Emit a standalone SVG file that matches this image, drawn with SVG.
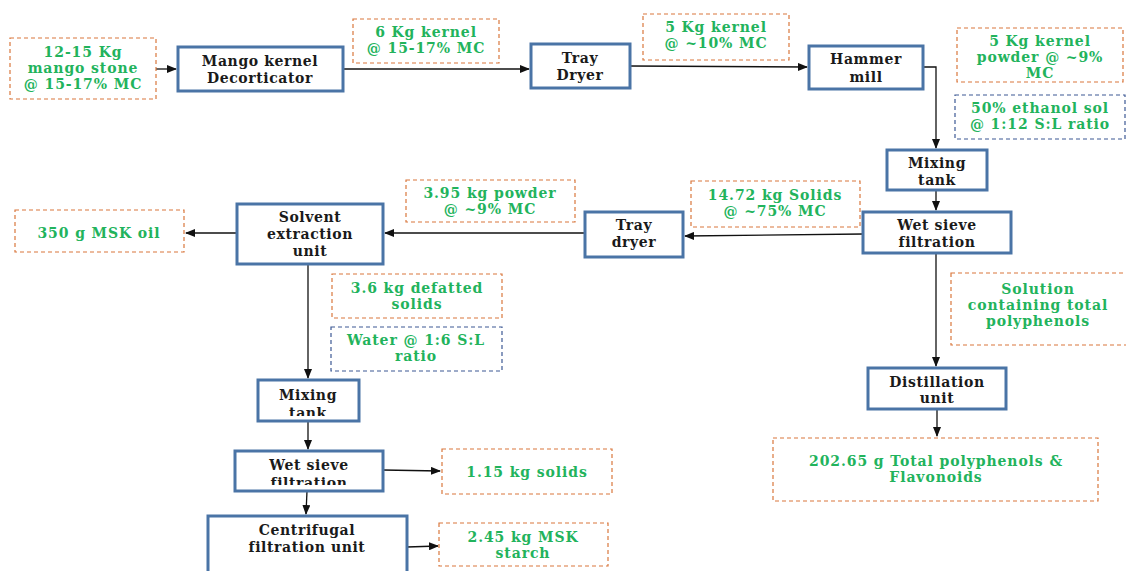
<svg xmlns="http://www.w3.org/2000/svg" width="1126" height="571" viewBox="0 0 1126 571">
<style>
.node{fill:#fff;stroke:#4a74a6;stroke-width:3}
.note{fill:#fff;stroke:#d9773c;stroke-width:1.2;stroke-dasharray:4 3}
.noteb{fill:#fff;stroke:#3d5994;stroke-width:1.2;stroke-dasharray:4 3}
.t{font-family:"DejaVu Serif","Liberation Serif",serif;font-weight:bold;font-size:14px;letter-spacing:0.6px;fill:#1a1a1a;text-anchor:middle}
.g{font-family:"DejaVu Serif","Liberation Serif",serif;font-weight:bold;font-size:14px;letter-spacing:0.9px;fill:#22b35c;text-anchor:middle}
.c{fill:none;stroke:#111;stroke-width:1.3}
</style>
<defs>
<marker id="ah" markerWidth="10" markerHeight="8" refX="9" refY="4" orient="auto" markerUnits="userSpaceOnUse">
<path d="M0,0 L10,4 L0,8 Z" fill="#111"/>
</marker>
<clipPath id="clipMix2"><rect x="258" y="380" width="101" height="36"/></clipPath>
<clipPath id="clipWet2"><rect x="235" y="451" width="148" height="34"/></clipPath>
</defs>

<g id="connectors">
<path class="c" d="M156,69 H176" marker-end="url(#ah)"/>
<path class="c" d="M343,69 H529" marker-end="url(#ah)"/>
<path class="c" d="M630,66 L807,67" marker-end="url(#ah)"/>
<path class="c" d="M923,67 H936 V148" marker-end="url(#ah)"/>
<path class="c" d="M936,190 V210" marker-end="url(#ah)"/>
<path class="c" d="M863,234 L685,236" marker-end="url(#ah)"/>
<path class="c" d="M585,233 H385" marker-end="url(#ah)"/>
<path class="c" d="M237,233 H186" marker-end="url(#ah)"/>
<path class="c" d="M936,253 V366" marker-end="url(#ah)"/>
<path class="c" d="M937,409 V436" marker-end="url(#ah)"/>
<path class="c" d="M308,265 V378" marker-end="url(#ah)"/>
<path class="c" d="M308,421 V449" marker-end="url(#ah)"/>
<path class="c" d="M383,470 L440,471" marker-end="url(#ah)"/>
<path class="c" d="M307,491 L306,514" marker-end="url(#ah)"/>
<path class="c" d="M407,547 L438,546" marker-end="url(#ah)"/>
</g>

<g id="n-stone"><rect class="note" x="10" y="38" width="146" height="61"/>
<text class="g" x="83" y="57">12-15 Kg</text><text class="g" x="83" y="73">mango stone</text><text class="g" x="83" y="89">@ 15-17% MC</text></g>

<g id="n-decort"><rect class="node" x="178" y="47" width="165" height="44"/>
<text class="t" x="260" y="66">Mango kernel</text><text class="t" x="260" y="83">Decorticator</text></g>

<g id="n-kernel6"><rect class="note" x="353" y="19" width="146" height="44"/>
<text class="g" x="426" y="37">6 Kg kernel</text><text class="g" x="426" y="53">@ 15-17% MC</text></g>

<g id="n-traydryer1"><rect class="node" x="531" y="44" width="99" height="44"/>
<text class="t" x="580" y="63">Tray</text><text class="t" x="580" y="80">Dryer</text></g>

<g id="n-kernel5"><rect class="note" x="643" y="14" width="146" height="46"/>
<text class="g" x="716" y="32">5 Kg kernel</text><text class="g" x="716" y="48">@ ~10% MC</text></g>

<g id="n-hammer"><rect class="node" x="809" y="46" width="114" height="43"/>
<text class="t" x="866" y="64">Hammer</text><text class="t" x="866" y="82">mill</text></g>

<g id="n-powder5"><rect class="note" x="957" y="28" width="166" height="54"/>
<text class="g" x="1040" y="46">5 Kg kernel</text><text class="g" x="1040" y="62">powder @ ~9%</text><text class="g" x="1040" y="78">MC</text></g>

<g id="n-ethanol"><rect class="noteb" x="955" y="95" width="170" height="44"/>
<text class="g" x="1040" y="113">50% ethanol sol</text><text class="g" x="1040" y="129">@ 1:12 S:L ratio</text></g>

<g id="n-mix1"><rect class="node" x="887" y="150" width="100" height="40"/>
<text class="t" x="937" y="168">Mixing</text><text class="t" x="937" y="185">tank</text></g>

<g id="n-wet1"><rect class="node" x="863" y="212" width="148" height="41"/>
<text class="t" x="937" y="230">Wet sieve</text><text class="t" x="937" y="247">filtration</text></g>

<g id="n-solids1472"><rect class="note" x="691" y="181" width="169" height="46"/>
<text class="g" x="775" y="200">14.72 kg Solids</text><text class="g" x="775" y="216">@ ~75% MC</text></g>

<g id="n-traydryer2"><rect class="node" x="585" y="212" width="98" height="45"/>
<text class="t" x="634" y="230">Tray</text><text class="t" x="634" y="247">dryer</text></g>

<g id="n-powder395"><rect class="note" x="406" y="180" width="169" height="42"/>
<text class="g" x="490" y="198">3.95 kg powder</text><text class="g" x="490" y="214">@ ~9% MC</text></g>

<g id="n-solvent"><rect class="node" x="237" y="204" width="146" height="60"/>
<text class="t" x="310" y="222">Solvent</text><text class="t" x="310" y="239">extraction</text><text class="t" x="310" y="256">unit</text></g>

<g id="n-oil"><rect class="note" x="15" y="210" width="169" height="42"/>
<text class="g" x="99" y="238">350 g MSK oil</text></g>

<g id="n-solution"><rect class="note" x="951" y="273" width="182" height="72"/>
<text class="g" x="1038" y="294">Solution</text><text class="g" x="1038" y="310">containing total</text><text class="g" x="1038" y="326">polyphenols</text></g>

<g id="n-distill"><rect class="node" x="868" y="368" width="138" height="41"/>
<text class="t" x="937" y="387">Distillation</text><text class="t" x="937" y="403">unit</text></g>

<g id="n-poly"><rect class="note" x="773" y="438" width="325" height="63"/>
<text class="g" x="936" y="466">202.65 g Total polyphenols &amp;</text><text class="g" x="936" y="482">Flavonoids</text></g>

<g id="n-defatted"><rect class="note" x="332" y="274" width="170" height="44"/>
<text class="g" x="417" y="293">3.6 kg defatted</text><text class="g" x="417" y="309">solids</text></g>

<g id="n-water"><rect class="noteb" x="331" y="327" width="171" height="44"/>
<text class="g" x="416" y="345">Water @ 1:6 S:L</text><text class="g" x="416" y="361">ratio</text></g>

<g id="n-mix2"><rect class="node" x="258" y="380" width="101" height="41"/>
<g clip-path="url(#clipMix2)"><text class="t" x="308" y="400">Mixing</text><text class="t" x="308" y="418">tank</text></g></g>

<g id="n-wet2"><rect class="node" x="235" y="451" width="148" height="40"/>
<g clip-path="url(#clipWet2)"><text class="t" x="309" y="470">Wet sieve</text><text class="t" x="309" y="488">filtration</text></g></g>

<g id="n-solids115"><rect class="note" x="442" y="449" width="170" height="45"/>
<text class="g" x="527" y="477">1.15 kg solids</text></g>

<g id="n-centri"><rect class="node" x="208" y="516" width="199" height="60"/>
<text class="t" x="307" y="535">Centrifugal</text><text class="t" x="307" y="552">filtration unit</text></g>

<g id="n-starch"><rect class="note" x="439" y="523" width="169" height="43"/>
<text class="g" x="523" y="542">2.45 kg MSK</text><text class="g" x="523" y="558">starch</text></g>
</svg>
